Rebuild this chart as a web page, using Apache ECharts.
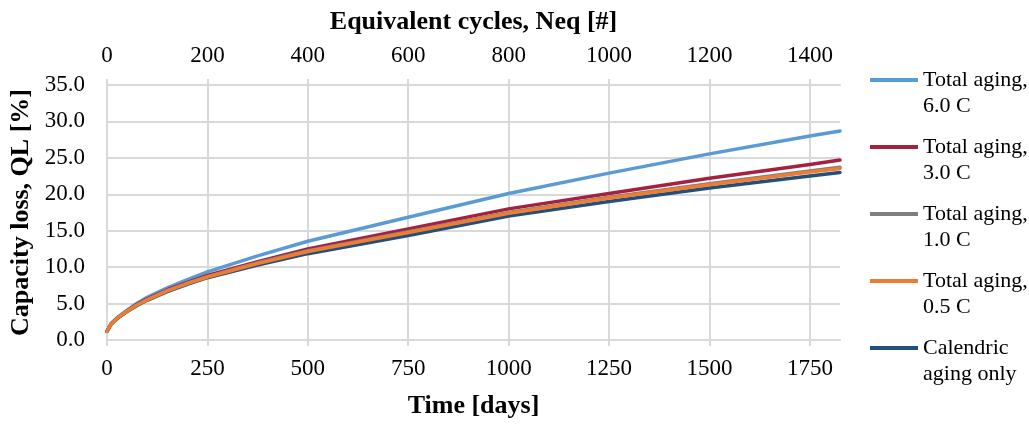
<!DOCTYPE html>
<html>
<head>
<meta charset="utf-8">
<script src="https://cdn.jsdelivr.net/npm/echarts@6/dist/echarts.min.js"></script>
<style>
    html, body { margin: 0; padding: 0; background: #fff; }
    #chart { width: 1029px; height: 424px; }
</style>
</head>
<body>
<div id="chart"></div>
<script>
// time axis (days) and capacity loss values
const days = [0, 10, 25, 50, 75, 100, 150, 200, 250, 375, 500, 750, 1000, 1250, 1500, 1750, 1825];
const total60C = [1.2, 2.25, 3.05, 4.1, 5.05, 5.85, 7.15, 8.3, 9.35, 11.55, 13.55, 16.85, 20.1, 22.9, 25.55, 28.0, 28.7];
const total30C = [1.2, 2.2, 3.0, 4.0, 4.9, 5.65, 6.9, 7.9, 8.85, 10.75, 12.5, 15.25, 18.0, 20.1, 22.2, 24.1, 24.7];
const total10C = [1.2, 2.2, 3.0, 3.95, 4.8, 5.55, 6.8, 7.8, 8.7, 10.6, 12.25, 14.85, 17.5, 19.6, 21.45, 23.2, 23.7];
const total05C = [1.2, 2.2, 3.0, 3.95, 4.8, 5.5, 6.75, 7.75, 8.65, 10.5, 12.15, 14.75, 17.4, 19.5, 21.3, 23.05, 23.55];
const calendric = [1.2, 2.15, 2.95, 3.9, 4.75, 5.45, 6.65, 7.65, 8.55, 10.3, 11.85, 14.35, 17.0, 19.0, 20.85, 22.5, 23.0];

const seriesNames = [
    "Total aging,\n6.0 C",
    "Total aging,\n3.0 C",
    "Total aging,\n1.0 C",
    "Total aging,\n0.5 C",
    "Calendric\naging only",
];
const seriesValues = [total60C, total30C, total10C, total05C, calendric];
const seriesColors = ["#5b9bd5", "#a5213f", "#7f7f7f", "#ed7d31", "#234f7d"];
const seriesZ = [2, 3, 4, 6, 5];

const dayTicks = [0, 250, 500, 750, 1000, 1250, 1500, 1750];
const cycleTicks = [0, 200, 400, 600, 800, 1000, 1200, 1400];
const dayMax = 1825;
const cycleMax = 1460;

const font = "Liberation Serif";
const gridColor = "#d9d9d9";

const chart = echarts.init(document.getElementById("chart"));

// legend line drawn at the top of a 48x30 box so it sits on the first text line
const legendIcon = "path://M0,0L48,0L48,4L0,4Z M0,30L0.01,30L0,30.01Z";

const tickLabel = { fontFamily: font, fontSize: 23, color: "#000", formatter: (v) => String(v) };
const axisName = { fontFamily: font, fontSize: 26, fontWeight: "bold", color: "#000" };

const option = {
    animation: false,
    grid: { left: 107, right: 189, top: 85, bottom: 84, outerBoundsMode: "none" },
    legend: {
        orient: "vertical",
        left: 870,
        top: 67,
        padding: 0,
        itemGap: 15,
        itemWidth: 48,
        itemHeight: 30,
        symbolKeepAspect: false,
        data: seriesNames.map((name, i) => ({
            name,
            icon: legendIcon,
            itemStyle: { color: seriesColors[i], borderWidth: 0 },
        })),
        textStyle: { fontFamily: font, fontSize: 22, lineHeight: 26, color: "#000" },
    },
    xAxis: [
        {
            type: "value",
            position: "bottom",
            min: 0,
            max: dayMax,
            interval: 250,
            name: "Time [days]",
            nameLocation: "middle",
            nameGap: 53,
            nameTextStyle: axisName,
            axisLine: { show: true, lineStyle: { color: gridColor, width: 2 } },
            axisTick: { show: true, length: 6, customValues: dayTicks, lineStyle: { color: gridColor, width: 2 } },
            axisLabel: { ...tickLabel, customValues: dayTicks, margin: 17 },
            splitLine: { show: true, lineStyle: { color: gridColor, width: 2 } },
        },
        {
            type: "value",
            position: "top",
            min: 0,
            max: cycleMax,
            interval: 200,
            name: "Equivalent cycles, Neq [#]",
            nameLocation: "middle",
            nameGap: 50,
            nameTextStyle: axisName,
            axisLine: { show: true, lineStyle: { color: gridColor, width: 2 } },
            axisTick: { show: true, length: 6, customValues: cycleTicks, lineStyle: { color: gridColor, width: 2 } },
            axisLabel: { ...tickLabel, customValues: cycleTicks, margin: 18 },
            splitLine: { show: false },
        },
    ],
    yAxis: {
        type: "value",
        min: 0,
        max: 35,
        interval: 5,
        name: "Capacity loss, QL [%]",
        nameLocation: "middle",
        nameGap: 72,
        nameTextStyle: axisName,
        axisLine: { show: true, lineStyle: { color: gridColor, width: 2 } },
        axisTick: { show: false },
        axisLabel: { ...tickLabel, margin: 22, formatter: (v) => v.toFixed(1) },
        splitLine: { show: true, lineStyle: { color: gridColor, width: 2 } },
    },
    series: seriesNames.map((name, i) => ({
        name,
        type: "line",
        xAxisIndex: 0,
        data: days.map((d, k) => [d, seriesValues[i][k]]),
        showSymbol: false,
        z: seriesZ[i],
        color: seriesColors[i],
        lineStyle: { width: 3.5, color: seriesColors[i], join: "round", cap: "round" },
    })),
};

chart.setOption(option);
</script>
</body>
</html>
